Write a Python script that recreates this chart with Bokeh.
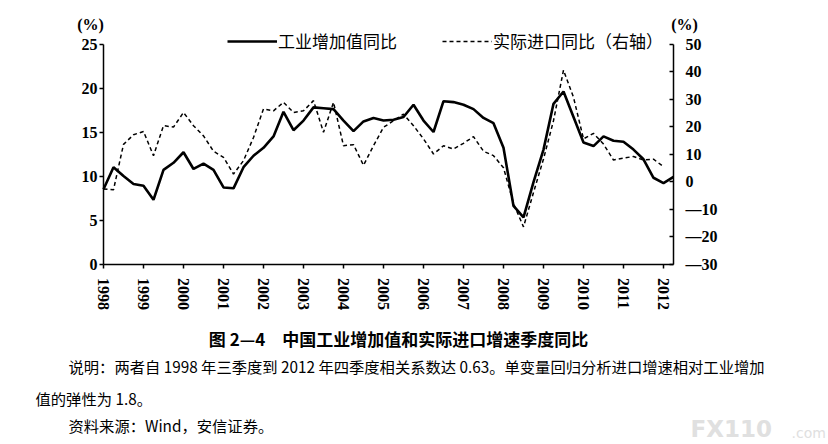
import math
from bokeh.plotting import figure
from bokeh.models import (Range1d, LinearAxis, FixedTicker, Label, Legend,
                          LegendItem)
from bokeh.embed import file_html
from bokeh.resources import INLINE

# ---------------- data ----------------
years = list(range(1998, 2013))
year_labels = [str(y) for y in years]

# 工业增加值同比 (left axis, %), quarterly
industry = [8.5, 11.0, 10.0, 9.1, 8.9, 7.3, 10.7, 11.5, 12.7, 10.8,
            11.4, 10.7, 8.7, 8.6, 11.0, 12.3, 13.2, 14.5, 17.3, 15.2,
            16.3, 17.8, 17.7, 17.6, 16.3, 15.1, 16.2, 16.6, 16.3, 16.4,
            16.7, 18.1, 16.3, 15.0, 18.5, 18.4, 18.1, 17.6, 16.6, 16.0,
            13.2, 6.6, 5.3, 9.3, 13.0, 18.2, 19.6, 16.7, 13.8, 13.4,
            14.5, 14.0, 13.9, 13.0, 11.9, 9.8, 9.2, 9.9]

# 实际进口同比 (right axis, %), quarterly
imports = [-2.7, -3.0, 13.5, 17.0, 18.2, 9.4, 20.3, 19.8, 25.1, 20.3,
           16.6, 11.0, 8.8, 2.7, 7.6, 16.0, 26.4, 25.7, 28.8, 25.1,
           25.7, 29.4, 17.9, 28.8, 13.0, 13.4, 5.9, 13.0, 19.7, 22.1,
           24.5, 20.3, 15.5, 10.0, 13.0, 11.8, 13.9, 16.3, 11.0, 9.4,
           5.0, -8.0, -16.5, -4.0, 8.2, 22.1, 40.5, 30.6, 15.5, 17.5,
           13.6, 7.8, 8.5, 9.1, 7.8, 8.1, 5.4]

left_ticks = [0, 5, 10, 15, 20, 25]
right_ticks = [-30, -20, -10, 0, 10, 20, 30, 40, 50]
right_labels = ["—30", "—20", "—10", "0", "10", "20", "30", "40", "50"]

x_ind = [years[0] + i / 4 for i in range(len(industry))]
x_imp = [years[0] + i / 4 for i in range(len(imports))]

# ---------------- layout (pixels) ----------------
W, H = 828, 444
X0, PX_YEAR = 103.0, 40.0          # x pixel of 1998, pixels per year
Y0, PX_L = 263.5, 8.8              # y pixel of left 0, pixels per unit
PX_R = PX_L * 25 / 80              # right axis pixels per unit
X_END = 2012.25

SERIF = "Liberation Serif"
CJK = "Noto Sans CJK SC"

p = figure(width=W, height=H,
           x_range=Range1d(1998 - X0 / PX_YEAR, 1998 + (W - X0) / PX_YEAR),
           y_range=Range1d(-(H - Y0) / PX_L, Y0 / PX_L),
           output_backend="svg", toolbar_location=None, min_border=0)
p.xgrid.visible = False
p.ygrid.visible = False
p.outline_line_color = None
p.background_fill_color = "white"
p.border_fill_color = "white"

p.extra_y_ranges = {"right": Range1d(-30 - (H - Y0) / PX_R, -30 + Y0 / PX_R)}


def style_axis(ax):
    ax.axis_line_color = "black"
    ax.axis_line_width = 1.5
    ax.major_tick_line_color = "black"
    ax.major_tick_line_width = 1.5
    ax.minor_tick_line_color = None
    ax.major_label_text_font = SERIF
    ax.major_label_text_font_style = "bold"
    ax.major_label_text_font_size = "16px"
    ax.major_label_text_color = "black"


xa = p.xaxis[0]
xa.fixed_location = 0
xa.bounds = (1998, X_END)
xa.ticker = FixedTicker(ticks=years)
xa.major_label_overrides = {y: l for y, l in zip(years, year_labels)}
style_axis(xa)
xa.major_tick_out = 4
xa.major_tick_in = 0
xa.major_label_orientation = -math.pi / 2
xa.major_label_standoff = 10

ya = p.yaxis[0]
ya.fixed_location = 1998
ya.bounds = (0, 25)
ya.ticker = FixedTicker(ticks=left_ticks)
style_axis(ya)
ya.major_tick_out = 4
ya.major_tick_in = 0
ya.major_label_standoff = 2

ra = LinearAxis(y_range_name="right", ticker=FixedTicker(ticks=right_ticks),
                fixed_location=X_END, bounds=(-30, 50))
ra.major_label_overrides = {t: l for t, l in zip(right_ticks, right_labels)}
style_axis(ra)
ra.major_tick_in = 4
ra.major_tick_out = 0
ra.major_label_standoff = 12
p.add_layout(ra, "right")

r1 = p.line(x_ind, industry, line_color="black", line_width=2.6)
r2 = p.line(x_imp, imports, y_range_name="right", line_color="black",
            line_width=1.5, line_dash="4 3")

legend = Legend(items=[LegendItem(label="工业增加值同比", renderers=[r1]),
                       LegendItem(label="实际进口同比（右轴）", renderers=[r2])],
                location=(227, H - 53), orientation="horizontal",
                glyph_width=50, glyph_height=22, label_standoff=1,
                spacing=45, padding=0, margin=0,
                label_text_font=CJK, label_text_font_size="17px",
                label_text_color="black", label_height=22,
                border_line_color=None, background_fill_alpha=0)
p.add_layout(legend)


def lab(px, py, text, size="15px", font=CJK, bold=False, align="left",
        color="black"):
    p.add_layout(Label(x=px, y=H - py, x_units="screen", y_units="screen",
                       text=text, text_font=font, text_font_size=size,
                       text_font_style="bold" if bold else "normal",
                       text_align=align, text_baseline="middle",
                       text_color=color))


lab(90, 24, "(%)", size="16px", font=SERIF, bold=True, align="center")
lab(684, 24, "(%)", size="16px", font=SERIF, bold=True, align="center")

lab(398, 338, "图 2—4　中国工业增加值和实际进口增速季度同比", size="17px",
    bold=True, align="center")
lab(68, 365, "说明：两者自 1998 年三季度到 2012 年四季度相关系数达 0.63。单变量回归分析进口增速相对工业增加",
    size="15.3px")
lab(35, 397, "值的弹性为 1.8。", size="15.3px")
lab(68, 424, "资料来源：Wind，安信证券。", size="15.3px")

lab(690, 428, "FX110", size="23px", font="DejaVu Sans", bold=True,
    color="#e0e0e0")
lab(791, 432, ".com", size="14px", font="DejaVu Sans", color="#e0e0e0")

open("out.html", "w").write(file_html(p, INLINE))
